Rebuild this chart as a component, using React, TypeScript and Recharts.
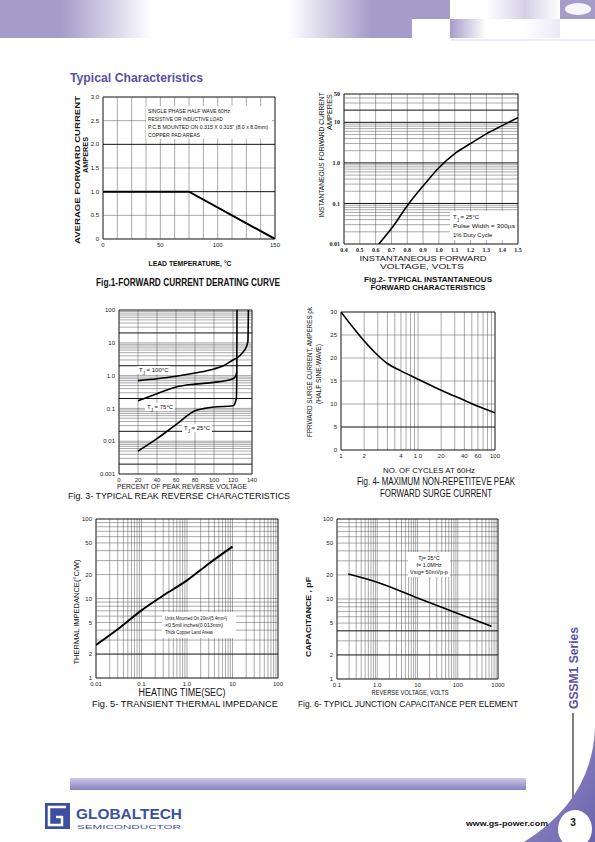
import React from 'react'
import { LineChart, Line, XAxis, YAxis, ReferenceLine } from 'recharts'

// Fig.1 forward current derating curve
const fig1Temp = [0, 75, 150]
const fig1Current = [1.0, 1.0, 0]
const fig1XTicks = [0, 50, 100, 150]
const fig1XLabels = ['0', '50', '100', '150']
const fig1YTicks = [0, 0.5, 1, 1.5, 2, 2.5, 3]
const fig1YLabels = ['0', '0.5', '1.0', '1.5', '2.0', '2.5', '3.0']

// Fig.2 instantaneous forward characteristics
const fig2Volts = [0.62, 0.7, 0.8, 0.9, 1.0, 1.1, 1.2, 1.3, 1.4, 1.5]
const fig2Amps = [0.01, 0.024, 0.088, 0.27, 0.76, 1.7, 3.0, 5.2, 8.3, 13]
const fig2XTicks = [0.4, 0.5, 0.6, 0.7, 0.8, 0.9, 1.0, 1.1, 1.2, 1.3, 1.4, 1.5]
const fig2XLabels = ['0.4', '0.5', '0.6', '0.7', '0.8', '0.9', '1.0', '1.1', '1.2', '1.3', '1.4', '1.5']
const fig2YTicks = [0.01, 0.1, 1, 10, 50]
const fig2YLabels = ['0.01', '0.1', '1.0', '10', '50']

// Fig.3 reverse characteristics, one curve per junction temperature
const fig3Pct100 = [20, 40, 60, 80, 100, 110, 120, 125, 130, 134, 135.7, 136, 136.2]
const fig3Ir100 = [0.7, 0.8, 0.95, 1.2, 1.6, 2.0, 3.0, 3.6, 5.0, 7.5, 11, 30, 100]
const fig3Pct75 = [20, 40, 60, 80, 100, 120, 123, 124]
const fig3Ir75 = [0.17, 0.28, 0.45, 0.55, 0.62, 0.8, 1.0, 1.3]
const fig3Pct25 = [20, 40, 60, 80, 90, 100, 120, 123.5, 124, 124.2]
const fig3Ir25 = [0.005, 0.012, 0.032, 0.085, 0.1, 0.11, 0.12, 0.2, 1, 100]
const fig3XTicks = [0, 20, 40, 60, 80, 100, 120, 140]
const fig3XLabels = ['0', '20', '40', '60', '80', '100', '120', '140']
const fig3YTicks = [0.001, 0.01, 0.1, 1, 10, 100]
const fig3YLabels = ['0.001', '0.01', '0.1', '1.0', '10', '100']

// Fig.4 surge current
const fig4Cycles = [1, 2, 3, 4, 6, 10, 20, 40, 60, 100]
const fig4Surge = [30, 23.7, 20.6, 18.8, 17.2, 15.4, 13, 10.8, 9.5, 8.1]
const fig4XTicks = [1, 2, 6, 10, 20, 40, 60, 100]
const fig4XLabels = ['1', '2', '4', '1 0', '20', '40', '60', '100']
const fig4YTicks = [0, 5, 10, 15, 20, 25, 30]
const fig4YLabels = ['0', '5', '10', '15', '20', '25', '30']

// Fig.5 transient thermal impedance
const fig5Time = [0.01, 0.03, 0.1, 0.3, 1, 3, 10]
const fig5Zth = [2.6, 4.1, 7.1, 10.9, 16.9, 27.4, 45]
const fig5XTicks = [0.01, 0.1, 1, 10, 100]
const fig5XLabels = ['0.01', '0.1', '1.0', '10', '100']
const fig5YTicks = [1, 2, 5, 10, 20, 50, 100]
const fig5YLabels = ['1', '2', '5', '10', '20', '50', '100']

// Fig.6 junction capacitance
const fig6Volts = [0.19, 1, 10, 100, 684]
const fig6Cap = [20.5, 16.2, 10.3, 6.6, 4.55]
const fig6XTicks = [0.1, 1, 10, 100, 1000]
const fig6XLabels = ['0.1', '1.0', '10', '100', '1000']
const fig6YTicks = [1, 2, 5, 10, 20, 50, 100]
const fig6YLabels = ['1', '2', '5', '10', '20', '50', '100']

const SANS = 'Liberation Sans, Arial, sans-serif'
const SERIF = 'Liberation Serif, Times New Roman, serif'
const PURPLE = '#a59cca'
const INK = '#5b4fa7'

const zip = (xs: number[], ys: number[]) => xs.map((x, i) => ({ x, y: ys[i] }))
const fmt = (ticks: number[], labels: string[]) => (v: number) => labels[ticks.indexOf(v)] ?? ''

const steps = (lo: number, hi: number, d: number) => {
  const out: number[] = []
  for (let v = lo; v <= hi + d / 1000; v += d) out.push(Number(v.toFixed(4)))
  return out
}
const logGrid = (lo: number, hi: number) => {
  const out: number[] = []
  for (let e = -4; e <= 4; e++) {
    for (let k = 1; k < 10; k++) {
      const v = Number((k * Math.pow(10, e)).toPrecision(4))
      if (v >= lo && v <= hi) out.push(v)
    }
  }
  if (!out.includes(hi)) out.push(hi)
  return out
}

type Box = { x: number; y: number; w: number; h: number }
const YW = 30
const XH = 14
const PAD = 3
const MR = 12

const gridLines = (xs: number[], ys: number[], heavyX: number[], heavyY: number[], xd: number[], yd: number[]) => [
  ...xs.map(v => (
    <ReferenceLine
      key={'v' + v}
      x={v}
      stroke={heavyX.includes(v) || v === xd[0] || v === xd[1] ? '#111' : '#555'}
      strokeWidth={heavyX.includes(v) || v === xd[0] || v === xd[1] ? 1 : 0.5}
    />
  )),
  ...ys.map(v => (
    <ReferenceLine
      key={'h' + v}
      y={v}
      stroke={heavyY.includes(v) || v === yd[0] || v === yd[1] ? '#111' : '#555'}
      strokeWidth={heavyY.includes(v) || v === yd[0] || v === yd[1] ? 1 : 0.5}
    />
  ))
]

type PlotProps = {
  box: Box
  data?: { x: number; y: number }[]
  xd: number[]
  yd: number[]
  xLog?: boolean
  yLog?: boolean
  xTicks: number[]
  xLabels: string[]
  yTicks: number[]
  yLabels: string[]
  xGrid: number[]
  yGrid: number[]
  heavyX?: number[]
  heavyY?: number[]
  tickStyle?: React.CSSProperties
  children: React.ReactNode
}

const baseTick = { fontSize: 6, fill: '#222', fontFamily: SANS }

function Plot(p: PlotProps) {
  const tick = { ...baseTick, ...(p.tickStyle || {}) }
  return (
    <div style={{ position: 'absolute', left: p.box.x - YW, top: p.box.y - PAD }}>
      <LineChart
        width={p.box.w + YW + MR}
        height={p.box.h + PAD + XH}
        data={p.data}
        margin={{ top: PAD, right: MR, bottom: 0, left: 0 }}
      >
        <XAxis
          type="number"
          dataKey="x"
          domain={p.xd}
          scale={p.xLog ? 'log' : 'linear'}
          allowDataOverflow
          ticks={p.xTicks}
          tickFormatter={fmt(p.xTicks, p.xLabels)}
          interval={0}
          tickLine={false}
          axisLine={false}
          tickSize={2}
          tickMargin={2}
          height={XH}
          tick={tick}
        />
        <YAxis
          type="number"
          domain={p.yd}
          scale={p.yLog ? 'log' : 'linear'}
          allowDataOverflow
          ticks={p.yTicks}
          tickFormatter={fmt(p.yTicks, p.yLabels)}
          interval={0}
          tickLine={false}
          axisLine={false}
          tickSize={2}
          tickMargin={2}
          width={YW}
          tick={tick}
        />
        {gridLines(p.xGrid, p.yGrid, p.heavyX || [], p.heavyY || [], p.xd, p.yd)}
        {p.children}
      </LineChart>
    </div>
  )
}

type TProps = {
  x: number
  y: number
  w?: number
  s?: number
  b?: boolean
  f?: string
  c?: string
  a?: 'start' | 'middle' | 'end'
  r?: boolean
  children: React.ReactNode
}

function T({ x, y, w, s = 6, b = false, f = SANS, c = '#111', a = 'start', r = false, children }: TProps) {
  const props = {
    fontSize: s,
    fontWeight: b ? 700 : 400,
    fontFamily: f,
    fill: c,
    textAnchor: a,
    textLength: w,
    lengthAdjust: w ? ('spacingAndGlyphs' as const) : undefined
  }
  return r ? (
    <text transform={`translate(${x},${y}) rotate(-90)`} {...props}>
      {children}
    </text>
  ) : (
    <text x={x} y={y} {...props}>
      {children}
    </text>
  )
}

const curve = { stroke: '#000', strokeWidth: 1.6, dot: false, isAnimationActive: false } as const

export default function App() {
  const sub = (t: string) => (
    <tspan baselineShift="sub" fontSize="75%">
      {t}
    </tspan>
  )
  return (
    <div style={{ position: 'absolute', left: 0, top: 0, width: 595, height: 842, background: '#fff', overflow: 'hidden' }}>
      <Plot
        box={{ x: 103, y: 97, w: 172, h: 142 }}
        data={zip(fig1Temp, fig1Current)}
        xd={[0, 150]}
        yd={[0, 3]}
        xTicks={fig1XTicks}
        xLabels={fig1XLabels}
        yTicks={fig1YTicks}
        yLabels={fig1YLabels}
        xGrid={steps(0, 150, 12.5)}
        yGrid={steps(0, 3, 0.5)}
        heavyY={[1, 2]}
      >
        <Line dataKey="y" type="linear" {...curve} strokeWidth={2} />
      </Plot>

      <Plot
        box={{ x: 344, y: 94, w: 174, h: 150 }}
        data={zip(fig2Volts, fig2Amps)}
        xd={[0.4, 1.5]}
        yd={[0.01, 50]}
        yLog
        xTicks={fig2XTicks}
        xLabels={fig2XLabels}
        yTicks={fig2YTicks}
        yLabels={fig2YLabels}
        xGrid={steps(0.4, 1.5, 0.1)}
        yGrid={logGrid(0.01, 50)}
        heavyY={[0.1, 1, 10, 20]}
        tickStyle={{ fontFamily: SERIF, fontWeight: 700, fontSize: 6 }}
      >
        <Line dataKey="y" type="monotone" {...curve} />
      </Plot>

      <Plot
        box={{ x: 119, y: 310, w: 133, h: 164 }}
        xd={[0, 140]}
        yd={[0.001, 100]}
        yLog
        xTicks={fig3XTicks}
        xLabels={fig3XLabels}
        yTicks={fig3YTicks}
        yLabels={fig3YLabels}
        xGrid={steps(0, 140, 20)}
        yGrid={logGrid(0.001, 100)}
        heavyY={[0.002, 0.02, 0.2, 2, 20]}
      >
        <Line data={zip(fig3Pct100, fig3Ir100)} dataKey="y" type="monotone" {...curve} />
        <Line data={zip(fig3Pct75, fig3Ir75)} dataKey="y" type="monotone" {...curve} />
        <Line data={zip(fig3Pct25, fig3Ir25)} dataKey="y" type="monotone" {...curve} />
      </Plot>

      <Plot
        box={{ x: 341, y: 312, w: 154, h: 138 }}
        data={zip(fig4Cycles, fig4Surge)}
        xd={[1, 100]}
        yd={[0, 30]}
        xLog
        xTicks={fig4XTicks}
        xLabels={fig4XLabels}
        yTicks={fig4YTicks}
        yLabels={fig4YLabels}
        xGrid={logGrid(1, 100)}
        yGrid={steps(0, 30, 5)}
        heavyY={[5]}
      >
        <Line dataKey="y" type="monotone" {...curve} />
      </Plot>

      <Plot
        box={{ x: 96, y: 519, w: 182, h: 159 }}
        data={zip(fig5Time, fig5Zth)}
        xd={[0.01, 100]}
        yd={[1, 100]}
        xLog
        yLog
        xTicks={fig5XTicks}
        xLabels={fig5XLabels}
        yTicks={fig5YTicks}
        yLabels={fig5YLabels}
        xGrid={logGrid(0.01, 100)}
        yGrid={logGrid(1, 100)}
        heavyY={[2]}
      >
        <Line dataKey="y" type="monotone" {...curve} strokeWidth={2} />
      </Plot>

      <Plot
        box={{ x: 337, y: 519, w: 161, h: 160 }}
        data={zip(fig6Volts, fig6Cap)}
        xd={[0.1, 1000]}
        yd={[1, 100]}
        xLog
        yLog
        xTicks={fig6XTicks}
        xLabels={fig6XLabels}
        yTicks={fig6YTicks}
        yLabels={fig6YLabels}
        xGrid={logGrid(0.1, 1000)}
        yGrid={logGrid(1, 100)}
        heavyY={[2, 4]}
      >
        <Line dataKey="y" type="monotone" {...curve} />
      </Plot>

      <svg width={595} height={842} style={{ position: 'absolute', left: 0, top: 0, pointerEvents: 'none' }}>
        <defs>
          <linearGradient id="band" x1="0" x2="1" y1="0" y2="0">
            <stop offset="0" stopColor={PURPLE} />
            <stop offset="0.15" stopColor={PURPLE} />
            <stop offset="0.37" stopColor="#fff" />
            <stop offset="0.7" stopColor="#fff" />
            <stop offset="0.9" stopColor={PURPLE} />
            <stop offset="1" stopColor={PURPLE} />
          </linearGradient>
          <linearGradient id="fade" x1="0" x2="1" y1="0" y2="0">
            <stop offset="0" stopColor={PURPLE} />
            <stop offset="1" stopColor="#fff" />
          </linearGradient>
          <linearGradient id="fadeIn" x1="0" x2="1" y1="0" y2="0">
            <stop offset="0" stopColor="#fff" />
            <stop offset="1" stopColor="#d6d1e9" />
          </linearGradient>
          <linearGradient id="bar" x1="0" x2="0" y1="0" y2="1">
            <stop offset="0" stopColor="#cdc9e8" />
            <stop offset="1" stopColor="#8780c2" />
          </linearGradient>
          <linearGradient id="swoosh" x1="0" x2="1" y1="0" y2="1">
            <stop offset="0" stopColor="#9a92cc" />
            <stop offset="1" stopColor="#6d63ad" />
          </linearGradient>
        </defs>

        {/* header */}
        <rect x={0} y={0} width={412} height={38} fill="url(#band)" />
        <rect x={412} y={0} width={38} height={19} fill={PURPLE} />
        <rect x={450} y={19} width={36} height={19} fill="url(#fade)" />
        <rect x={486} y={0} width={38} height={19} fill="url(#fadeIn)" />
        <rect x={524} y={0} width={36} height={19} fill="url(#fade)" opacity={0.5} />
        <rect x={524} y={19} width={36} height={19} fill="url(#fadeIn)" opacity={0.5} />
        <rect x={560} y={0} width={35} height={19} fill={PURPLE} />
        <ellipse cx={578} cy={9} rx={13} ry={6} fill="#fff" opacity={0.9} />
        <line x1={450} y1={40} x2={595} y2={40} stroke="#dcd8ee" strokeWidth={1} />

        <T x={70} y={82} s={12} b c={INK} w={133}>Typical Characteristics</T>

        {/* Fig.1 */}
        <rect x={146} y={106} width={126} height={33} fill="#fff" />
        <T x={148} y={113} s={5.5} w={82}>SINGLE PHASE HALF WAVE 60Hz</T>
        <T x={148} y={121} s={5.5} w={75}>RESISTIVE OR INDUCTIVE LOAD</T>
        <T x={148} y={129} s={5.5} w={120}>P.C.B MOUNTED ON 0.315 X 0.315" (8.0 x 8.0mm)</T>
        <T x={148} y={137} s={5.5} w={52}>COPPER PAD AREAS</T>
        <T x={80} y={170} s={7.5} b r a="middle" w={148}>AVERAGE FORWARD CURRENT</T>
        <T x={88} y={155} s={7} b r a="middle" w={36}>AMPERES</T>
        <T x={190} y={266} s={8} b a="middle" w={83}>LEAD TEMPERATURE, °C</T>
        <T x={96} y={286} s={10} b w={184}>Fig.1-FORWARD CURRENT DERATING CURVE</T>

        {/* Fig.2 */}
        <rect x={450} y={211} width={67} height={29} fill="#fff" />
        <T x={453} y={219} s={6}>T{sub('J')} = 25°C</T>
        <T x={453} y={228} s={6} w={62}>Pulse Width = 300μs</T>
        <T x={453} y={237} s={6}>1% Duty Cycle</T>
        <T x={324} y={155} s={7} r a="middle" w={125}>INSTANTANEOUS FORWARD CURRENT</T>
        <T x={332} y={112} s={7} r a="middle" w={36}>AMPERES</T>
        <T x={423} y={261} s={7} a="middle" w={127}>INSTANTANEOUS FORWARD</T>
        <T x={422} y={269} s={7} a="middle" w={84}>VOLTAGE, VOLTS</T>
        <T x={428} y={282} s={6.5} b a="middle" w={128}>Fig.2- TYPICAL INSTANTANEOUS</T>
        <T x={428} y={290} s={6.5} b a="middle" w={115}>FORWARD CHARACTERISTICS</T>

        {/* Fig.3 */}
        <rect x={137} y={366} width={33} height={8} fill="#fff" />
        <T x={139} y={372} s={6}>T{sub('J')} = 100°C</T>
        <rect x={145} y={403} width={30} height={8} fill="#fff" />
        <T x={147} y={409} s={6}>T{sub('J')} = 75°C</T>
        <rect x={182} y={424} width={30} height={8} fill="#fff" />
        <T x={184} y={430} s={6}>T{sub('J')} = 25°C</T>
        <T x={182} y={489} s={7} a="middle" w={130}>PERCENT OF PEAK REVERSE VOLTAGE</T>
        <T x={68} y={499} s={9} w={222}>Fig. 3- TYPICAL REAK REVERSE CHARACTERISTICS</T>

        {/* Fig.4 */}
        <T x={312} y={372} s={7.5} r a="middle" w={130}>FPRWARD SURGE CURRENT, AMPERES pk</T>
        <T x={321} y={374} s={7.5} r a="middle" w={60}>(HALF SINE-WAVE)</T>
        <T x={429} y={473} s={8} a="middle" w={92}>NO. OF CYCLES AT 60Hz</T>
        <T x={436} y={485} s={10} a="middle" w={158}>Fig. 4- MAXIMUM NON-REPETITEVE PEAK</T>
        <T x={436} y={497} s={10} a="middle" w={112}>FORWARD SURGE CURRENT</T>

        {/* Fig.5 */}
        <rect x={162} y={612} width={74} height={26} fill="#fff" />
        <T x={165} y={620} s={4.8} w={62}>Units Mounted On 20in²(5.4mm²)</T>
        <T x={165} y={627} s={4.8} w={58}>×0.5mil inches(0.013mm)</T>
        <T x={165} y={634} s={4.8} w={48}>Thick Copper Land Areas</T>
        <T x={79} y={612} s={8} r a="middle" w={105}>THERMAL IMPEDANCE(°C/W)</T>
        <T x={182} y={696} s={10} a="middle" w={87}>HEATING TIME(SEC)</T>
        <T x={92} y={707} s={9.5} w={186}>Fig. 5- TRANSIENT THERMAL IMPEDANCE</T>

        {/* Fig.6 */}
        <rect x={408} y={552} width={42} height={25} fill="#fff" />
        <T x={429} y={560} s={5.5} a="middle">Tj= 25°C</T>
        <T x={429} y={567} s={5.5} a="middle">f= 1.0MHz</T>
        <T x={429} y={574} s={5.5} a="middle">Vsig= 50mVp-p</T>
        <T x={311} y={617} s={8} b r a="middle" w={80}>CAPACITANCE , pF</T>
        <T x={410} y={695} s={6.5} a="middle" w={77}>REVERSE VOLTAGE, VOLTS</T>
        <T x={298} y={707} s={9} w={220}>Fig. 6- TYPICL JUNCTION CAPACITANCE PER ELEMENT</T>

        {/* side tab */}
        <T x={578} y={668} s={12} b r a="middle" c={INK} w={82}>GSSM1 Series</T>
        <line x1={573} y1={713} x2={573} y2={805} stroke="#000" strokeWidth={1} />
        <path d="M595,728 Q592,800 524,842 L595,842 Z" fill="url(#swoosh)" />
        <ellipse cx={575} cy={829} rx={17} ry={19} fill="#fff" />
        <T x={573} y={826} s={10} b a="middle">3</T>

        {/* footer */}
        <rect x={70} y={778} width={456} height={12} fill="url(#bar)" />
        <rect x={45} y={803} width={25} height={26} fill="#3d4fa1" />
        <path d="M66,807 H49 V825 H62 V817 H56" fill="none" stroke="#fff" strokeWidth={2.5} />
        <T x={76} y={819} s={14} b c="#3d4fa1" w={106}>GLOBALTECH</T>
        <T x={77} y={829} s={5} c="#3d4fa1" w={104}>SEMICONDUCTOR</T>
        <T x={548} y={826} s={8} b a="end" w={82}>www.gs-power.com</T>
      </svg>
    </div>
  )
}
